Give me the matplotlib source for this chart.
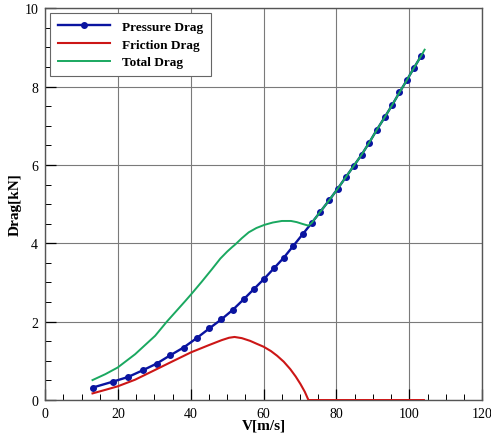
import matplotlib
matplotlib.use("Agg")
import matplotlib.pyplot as plt
from matplotlib.ticker import MultipleLocator

# pressure drag, read at the marker positions
v_p = [13.1, 18.6, 22.8, 26.8, 30.6, 34.3, 38.0, 41.6, 45.1, 48.4, 51.5,
       54.5, 57.4, 60.2, 62.9, 65.5, 68.1, 70.7, 73.2, 75.6, 78.0, 80.3,
       82.5, 84.7, 86.9, 89.0, 91.1, 93.2, 95.3, 97.3, 99.3, 101.3, 103.3]
pressure = [0.32, 0.47, 0.59, 0.76, 0.93, 1.14, 1.34, 1.58, 1.83, 2.06, 2.30,
            2.57, 2.84, 3.10, 3.37, 3.63, 3.93, 4.23, 4.52, 4.81, 5.10, 5.39,
            5.68, 5.97, 6.26, 6.57, 6.90, 7.21, 7.53, 7.85, 8.16, 8.48, 8.79]

# friction drag
v_f = [13.0, 16.5, 19.9, 24.7, 30.2, 34.8, 40.1, 44.9, 48.5, 50.5, 52.0,
       54.0, 56.3, 58.0, 60.0, 62.0, 63.7, 65.5, 67.3, 68.8, 70.1, 71.3,
       72.3, 80.0, 90.0, 100.0, 104.0]
friction = [0.17, 0.26, 0.35, 0.52, 0.77, 0.98, 1.22, 1.40, 1.53, 1.59, 1.61,
            1.58, 1.51, 1.44, 1.36, 1.25, 1.13, 0.98, 0.79, 0.60, 0.41, 0.21,
            0.0, 0.0, 0.0, 0.0, 0.0]

# total drag
v_t = [13.0, 16.5, 19.9, 24.7, 30.2, 33.4, 38.5, 40.1, 43.0, 45.8, 48.1,
       50.0, 51.3, 52.2, 54.0, 55.9, 58.0, 60.2, 62.5, 65.0, 67.5, 69.1,
       70.8, 72.3, 73.2, 75.6, 78.0, 80.3, 82.5, 84.7, 86.9, 89.0, 91.1,
       93.2, 95.3, 97.3, 99.3, 101.3, 103.3, 104.2]
total = [0.51, 0.66, 0.83, 1.17, 1.64, 2.00, 2.53, 2.70, 3.02, 3.34, 3.61,
         3.79, 3.90, 3.97, 4.13, 4.28, 4.39, 4.47, 4.53, 4.57, 4.57, 4.54,
         4.49, 4.45, 4.52, 4.81, 5.10, 5.39, 5.68, 5.97, 6.26, 6.57, 6.90,
         7.21, 7.53, 7.85, 8.16, 8.48, 8.79, 8.94]

plt.rcParams['font.family'] = ['Liberation Serif', 'DejaVu Serif']

fig = plt.figure(figsize=(4.91, 4.35), dpi=100)
ax = fig.add_axes([0.092, 0.078, 0.89, 0.901])

ax.plot(v_p, pressure, color='#0a14a0', lw=1.7, marker='o', ms=4,
        label='Pressure Drag', zorder=3)
ax.plot(v_f, friction, color='#cc1616', lw=1.5, label='Friction Drag', zorder=3)
ax.plot(v_t, total, color='#1aa860', lw=1.4, label='Total Drag', zorder=4)

ax.set_xlim(0, 120)
ax.set_ylim(0, 10)
ax.xaxis.set_major_locator(MultipleLocator(20))
ax.xaxis.set_minor_locator(MultipleLocator(5))
ax.yaxis.set_major_locator(MultipleLocator(2))
ax.yaxis.set_minor_locator(MultipleLocator(0.5))
ax.tick_params(which='both', direction='in', top=False, right=False,
               labelsize=10, pad=5)
ax.tick_params(which='major', length=8, width=0.9)
ax.tick_params(which='minor', length=4, width=0.7)
ax.grid(True, which='major', color='#7a7a7a', lw=0.8)
for s in ax.spines.values():
    s.set_color('#555555')
    s.set_linewidth(1.0)

ax.set_xlabel('V[m/s]', fontsize=11, fontweight='bold', labelpad=-1)
ax.set_ylabel('Drag[kN]', fontsize=11, fontweight='bold', labelpad=2)

leg = ax.legend(loc='upper left', bbox_to_anchor=(0.0, 1.0),
                prop={'weight': 'bold', 'size': 9.5}, handlelength=4.0,
                fancybox=False, framealpha=1, edgecolor='#666666',
                borderpad=0.6, labelspacing=0.42, handletextpad=0.85,
                borderaxespad=0.35)
leg.get_frame().set_linewidth(0.8)

fig.savefig('out.png', dpi=100)
